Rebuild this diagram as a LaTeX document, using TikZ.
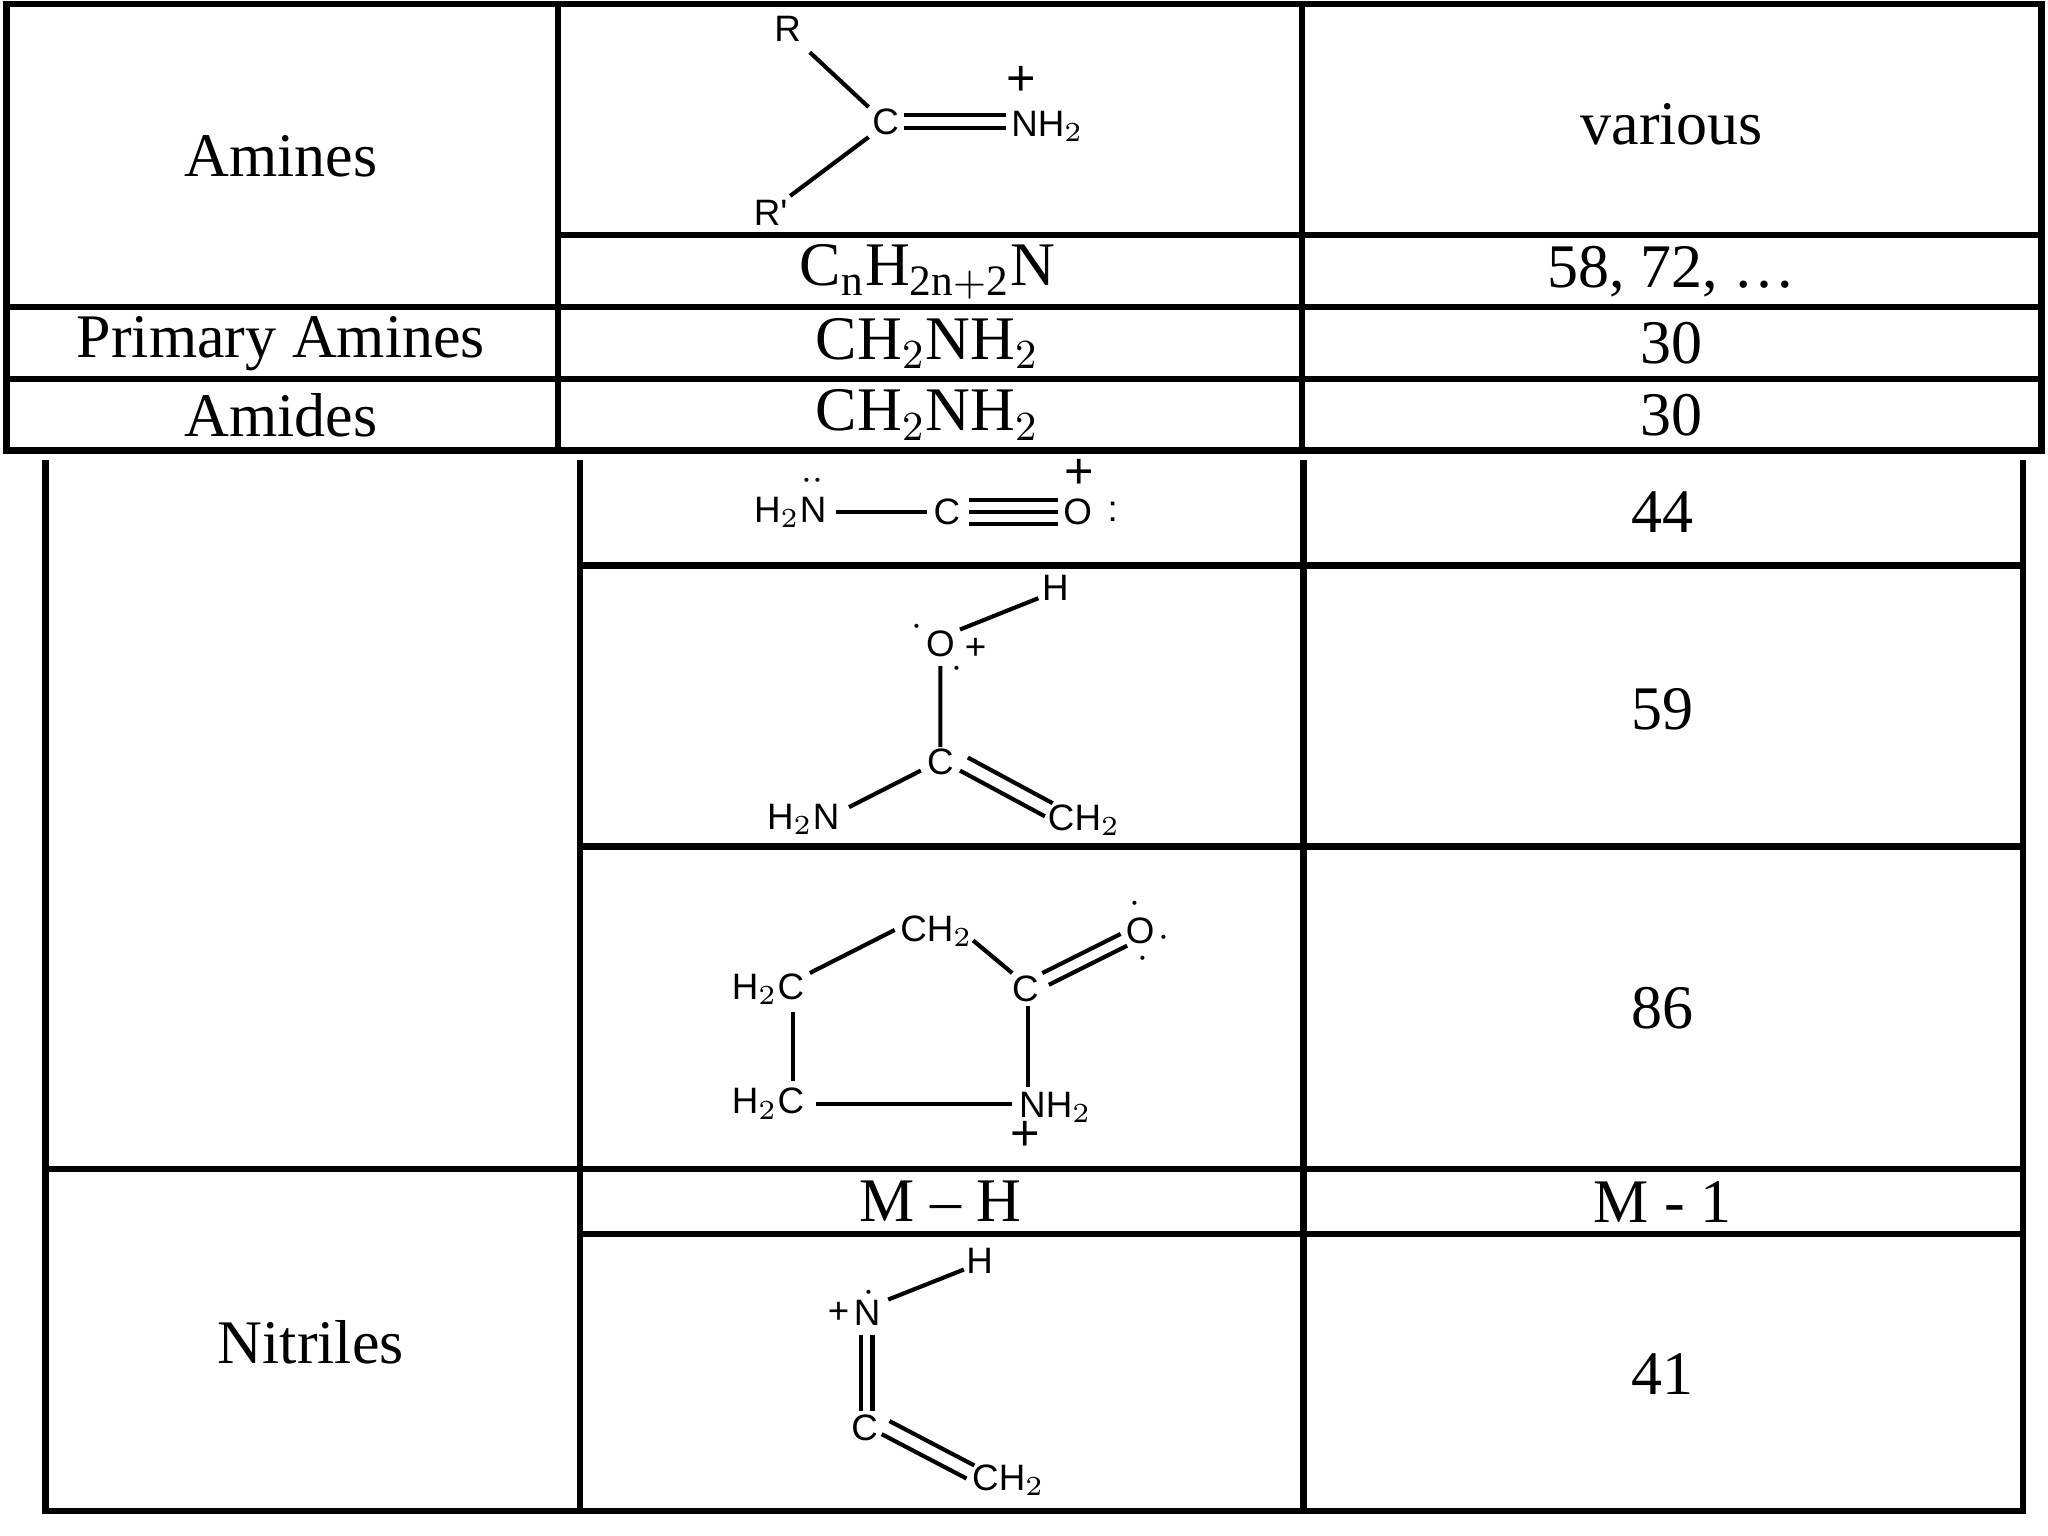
\documentclass[tikz,border=0pt]{standalone}
\usepackage{fontspec}
\setmainfont{Liberation Serif}
\newfontfamily\chemf{Liberation Sans}
\begin{document}
\begin{tikzpicture}[x=0.01cm,y=-0.01cm,
  tl/.style={line width=1.4pt},
  tt/.style={font=\fontsize{13.5}{15}\selectfont},
  ch/.style={font=\chemf\fontsize{8}{9}\selectfont,inner sep=0pt},
  bd/.style={line width=0.9pt}]
\useasboundingbox (0,0) rectangle (1568,1176);
% table 1
\draw[tl] (5,3) rectangle (1563,345);
\draw[tl] (427,3) -- (427,345) (997,3) -- (997,345);
\draw[tl] (427,180) -- (1563,180) (5,235) -- (1563,235) (5,290) -- (1563,290);
% table 2
\draw[tl] (35,352) -- (35,1157) -- (1549,1157) -- (1549,352);
\draw[tl] (444,352) -- (444,1157) (998,352) -- (998,1157);
\draw[tl] (444,433) -- (1549,433) (444,648) -- (1549,648) (35,895) -- (1549,895) (444,945) -- (1549,945);
% texts
\node[tt] (t1) at (215,120) {Amines};
\node[tt] (t2) at (1280,95) {various};
\node[tt] (t3) at (710,208) {C$_{\mathrm{n}}$H$_{\mathrm{2n+2}}$N};
\node[tt] (t4) at (1280,208) {58, 72, \dots};
\node[tt] (t5) at (215,263) {Primary Amines};
\node[tt] (t6) at (710,263) {CH$_2$NH$_2$};
\node[tt] (t7) at (1280,263) {30};
\node[tt] (t8) at (215,318) {Amides};
\node[tt] (t9) at (710,318) {CH$_2$NH$_2$};
\node[tt] (t10) at (1280,318) {30};
\node[tt] (t11) at (1273,392) {44};
\node[tt] (t12) at (1273,543) {59};
\node[tt] (t13) at (1273,772) {86};
\node[tt] (t14) at (720,920) {M -- H};
\node[tt] (t15) at (1273,920) {M - 1};
\node[tt] (t16) at (238,1028) {Nitriles};
\node[tt] (t17) at (1273,1052) {41};
% structure 1
\node[ch] (a1) at (603,22) {R};
\node[ch] (a2) at (678,93) {C};
\node[ch] (a3) at (802,97) {NH$_2$};
\node[ch,font=\chemf\fontsize{11}{12}\selectfont] (a4) at (782,62) {+};
\node[ch] (a5) at (590,163) {R'};
\draw[bd] (620,40) -- (665,82) (665,105) -- (605,150);
\draw[bd] (692,88) -- (770,88) (692,98) -- (770,98);
% structure 2
\node[ch] (b1) at (605,392) {H$_2$N};
\node[ch] (b1d) at (622,368) {$\cdot\cdot$};
\draw[bd] (640,392) -- (710,392);
\node[ch] (b2) at (725,392) {C};
\draw[bd] (742,383) -- (810,383) (742,392) -- (810,392) (742,401) -- (810,401);
\node[ch] (b3) at (825,392) {O};
\node[ch,font=\chemf\fontsize{11}{12}\selectfont] (b4) at (826,363) {+};
\node[ch] (b5) at (852,392) {:};
% structure 3
\node[ch] (c1) at (808,450) {H};
\node[ch] (c2) at (720,493) {O};
\node[ch] (c2p) at (747,497) {+};
\node[ch] (c2d) at (702,480) {$\cdot$};
\node[ch] (c2e) at (733,512) {$\cdot$};
\draw[bd] (735,482) -- (795,458) (720,510) -- (720,572);
\node[ch] (c3) at (720,583) {C};
\draw[bd] (705,590) -- (650,618);
\node[ch] (c4) at (615,627) {H$_2$N};
\draw[bd] (735,590) -- (800,625) (741,580) -- (806,615);
\node[ch] (c5) at (830,628) {CH$_2$};
% structure 4
\node[ch] (d1) at (717,713) {CH$_2$};
\node[ch] (d2) at (588,757) {H$_2$C};
\node[ch] (d3) at (785,757) {C};
\node[ch] (d4) at (873,713) {O};
\node[ch] (d4a) at (869,692) {$\cdot$};
\node[ch] (d4b) at (891,718) {$\cdot$};
\node[ch] (d4c) at (875,734) {$\cdot$};
\node[ch] (d5) at (588,845) {H$_2$C};
\node[ch] (d6) at (808,848) {NH$_2$};
\node[ch,font=\chemf\fontsize{11}{12}\selectfont] (d7) at (785,870) {+};
\draw[bd] (620,745) -- (685,712) (745,720) -- (775,745);
\draw[bd] (798,745) -- (858,715) (803,754) -- (863,724);
\draw[bd] (607,775) -- (607,828) (625,845) -- (775,845) (787,770) -- (787,832);
% structure 5
\node[ch] (e1) at (750,965) {H};
\node[ch] (e2) at (664,1005) {N};
\node[ch] (e2p) at (642,1005) {+};
\node[ch] (e2d) at (665,990) {$\cdot$};
\draw[bd] (680,995) -- (738,972);
\draw[bd] (659,1022) -- (659,1080) (668,1022) -- (668,1080);
\node[ch] (e3) at (662,1093) {C};
\draw[bd] (675,1098) -- (740,1132) (681,1088) -- (746,1122);
\node[ch] (e4) at (772,1133) {CH$_2$};
\end{tikzpicture}
\end{document}
